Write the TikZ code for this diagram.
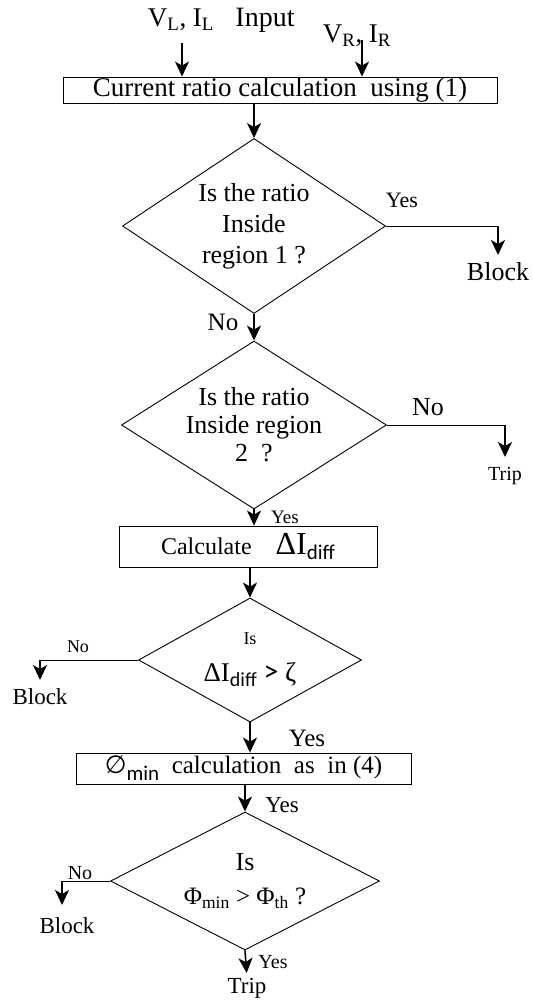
\documentclass[tikz,border=0pt]{standalone}
\usepackage{fontspec}
\setmainfont{Liberation Serif}
\setsansfont{Carlito}
\newfontfamily\symfont{DejaVu Sans}
\usetikzlibrary{shapes.geometric,arrows.meta}
\newcommand{\fsz}[2]{\fontsize{#1}{#2}\selectfont}

\tikzset{
  procbox/.style={draw, line width=0.9pt, inner sep=0pt},
  decision/.style={draw, line width=0.9pt, diamond, inner sep=0pt, align=center},
  flow/.style={line width=1.6pt, -{Stealth[length=15pt,width=14pt,inset=4pt]}},
  branch/.style={line width=0.9pt},
  lbl/.style={inner sep=0pt},
}

\begin{document}
\begin{tikzpicture}[x=1pt,y=-1pt]
			\useasboundingbox (0,0) rectangle (533,1002);
			% inputs
			\node[lbl,font=\fsz{27}{29}] (vl) at (181,20) {V\textsubscript{L}, I\textsubscript{L}};
			\node[lbl,font=\fsz{28}{30}] (inp) at (265,20) {Input};
			\node[lbl,font=\fsz{27}{29}] (vr) at (357,36) {V\textsubscript{R}, I\textsubscript{R}};
			\coordinate (vlend) at (182,43);
			\coordinate (vrend) at (362,40);
			\node[procbox,minimum width=434pt,minimum height=26pt,font=\fsz{27}{29}] (ratio) at (280,90) {Current ratio calculation\ \ using (1)};
			\draw[flow] (vlend) -- (vlend |- ratio.north);
			\draw[flow] (vrend) -- (vrend |- ratio.north);
			% region 1
			\node[decision,aspect=1.5,minimum width=263pt,minimum height=175pt,font=\fsz{26}{31}] (reg1) at (254,226) {Is the ratio\\Inside\\region 1 ?};
			\draw[flow] (ratio.south -| reg1.north) -- (reg1.north);
			\node[lbl,font=\fsz{22}{24}] (yes1) at (402,200) {Yes};
			\node[lbl,font=\fsz{26}{28},anchor=north] (blk1) at (498,262) {Block};
			\coordinate (c1) at (blk1.north |- reg1.east);
			\draw[branch] (reg1.east) -- (c1);
			\draw[flow,shorten >=7pt] (c1) -- (blk1.north);
			\node[lbl,font=\fsz{25}{27}] (no1) at (223,322) {No};
			% region 2
			\node[decision,aspect=1.58,minimum width=265pt,minimum height=168pt,font=\fsz{26}{28}] (reg2) at (254,425) {Is the ratio\\Inside region\\2\ \ ?};
			\draw[flow] (reg1.south) -- (reg2.north);
			\node[lbl,font=\fsz{26}{28}] (no2) at (428,407) {No};
			\node[lbl,font=\fsz{20}{22},anchor=north] (trip1) at (505,467) {Trip};
			\coordinate (c2) at (trip1.north |- reg2.east);
			\draw[branch] (reg2.east) -- (c2);
			\draw[flow,shorten >=10pt] (c2) -- (trip1.north);
			\node[lbl,font=\fsz{19}{21}] (yes2) at (285,517) {Yes};
			% delta I
			\node[procbox,minimum width=258pt,minimum height=41pt,font=\fsz{24}{26}] (calc) at (248,546.5) {Calculate\quad{\fsz{32}{34}ΔI}\raisebox{-5pt}{\sffamily\fsz{21}{23}diff}};
			\draw[flow] (reg2.south) -- (reg2.south |- calc.north);
			\node[decision,aspect=1.8,minimum width=223pt,minimum height=124pt,font=\fsz{27}{37}] (diff) at (250,660) {{\fsz{18}{37}Is}\\ΔI\raisebox{-5pt}{\sffamily\fsz{20}{22}diff} {\sffamily\fsz{30}{32}>} ζ};
			\draw[flow] (calc.south -| diff.north) -- (diff.north);
			\node[lbl,font=\fsz{18}{20}] (no3) at (78,647) {No};
			\node[lbl,font=\fsz{23}{25},anchor=north] (blk3) at (40,688) {Block};
			\coordinate (c3) at (blk3.north |- diff.west);
			\draw[branch] (diff.west) -- (c3);
			\draw[flow,shorten >=8pt] (c3) -- (blk3.north);
			\node[lbl,font=\fsz{25}{27}] (yes3) at (307,738) {Yes};
			% phase angle
			\node[procbox,minimum width=335pt,minimum height=31pt,font=\fsz{25}{27}] (phi) at (243.5,768.5) {{\symfont\fsz{25}{27}∅}\raisebox{-7pt}{\sffamily\fsz{21}{23}min}\ \ calculation\ \ as\ \ in (4)};
			\draw[flow] (diff.south) -- (diff.south |- phi.north);
			\node[lbl,font=\fsz{23}{25}] (yes4) at (282,805) {Yes};
			\node[decision,aspect=1.95,minimum width=269pt,minimum height=138pt,font=\fsz{25}{34}] (ang) at (245,881) {{\fsz{26}{34}Is}\\Φ\textsubscript{min} > Φ\textsubscript{th} ?};
			\draw[flow] (phi.south -| ang.north) -- (ang.north);
			\node[lbl,font=\fsz{20}{22}] (no4) at (80,873) {No};
			\node[lbl,font=\fsz{23}{25},anchor=north] (blk4) at (67,917) {Block};
			\coordinate (c4) at (62,881);
			\draw[branch] (ang.west) -- (c4);
			\draw[flow,shorten >=12pt] (c4) -- (c4 |- blk4.north);
			\node[lbl,font=\fsz{20}{22}] (yes5) at (273,962) {Yes};
			\node[lbl,font=\fsz{23}{25},anchor=north] (trip2) at (247,978) {Trip};
			\draw[flow,shorten >=5pt] (ang.south) -- (trip2.north);
\end{tikzpicture}
\end{document}
